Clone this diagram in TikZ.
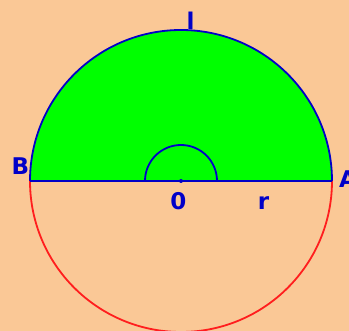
\documentclass[tikz,border=0pt]{standalone}
\usepackage{fontspec}
\setmainfont{DejaVu Sans}
\definecolor{bg}{RGB}{250,200,150}
\definecolor{lblue}{RGB}{0,0,200}
\definecolor{lgreen}{RGB}{0,255,0}
\definecolor{lred}{RGB}{255,30,30}
\tikzset{
  lbl/.style={text=lblue,inner sep=0pt,anchor=base,font=\bfseries\fontsize{23}{23}\selectfont},
  bline/.style={draw=lblue,line width=1.8pt},
  rline/.style={draw=lred,line width=1.8pt}
}
\begin{document}
\begin{tikzpicture}[x=1pt,y=1pt]
\useasboundingbox (0,0) rectangle (349,331);
\fill[bg] (0,0) rectangle (349,331);
\coordinate (O) at (181,150);
\coordinate (A) at (332,150);
\coordinate (B) at (30,150);
% upper half filled
\fill[lgreen] (A) arc[start angle=0,end angle=180,radius=151] -- cycle;
\draw[bline] (A) arc[start angle=0,end angle=180,radius=151];
% lower half
\draw[rline] (B) arc[start angle=180,end angle=360,radius=151];
% diameter
\draw[bline] (B) -- (A);
% small semicircle
\draw[bline] ([xshift=36pt]O) arc[start angle=0,end angle=180,radius=36];
\fill[lblue] (O) circle[radius=2];
% labels
\node[lbl] (lA) at (348,143) {A};
\node[lbl] (lB) at (20.5,156) {B};
\node[lbl] (ll) at (190.5,301) {l};
\node[lbl] (l0) at (178.5,121) {0};
\node[lbl] (lr) at (263.5,121) {r};
\end{tikzpicture}
\end{document}
